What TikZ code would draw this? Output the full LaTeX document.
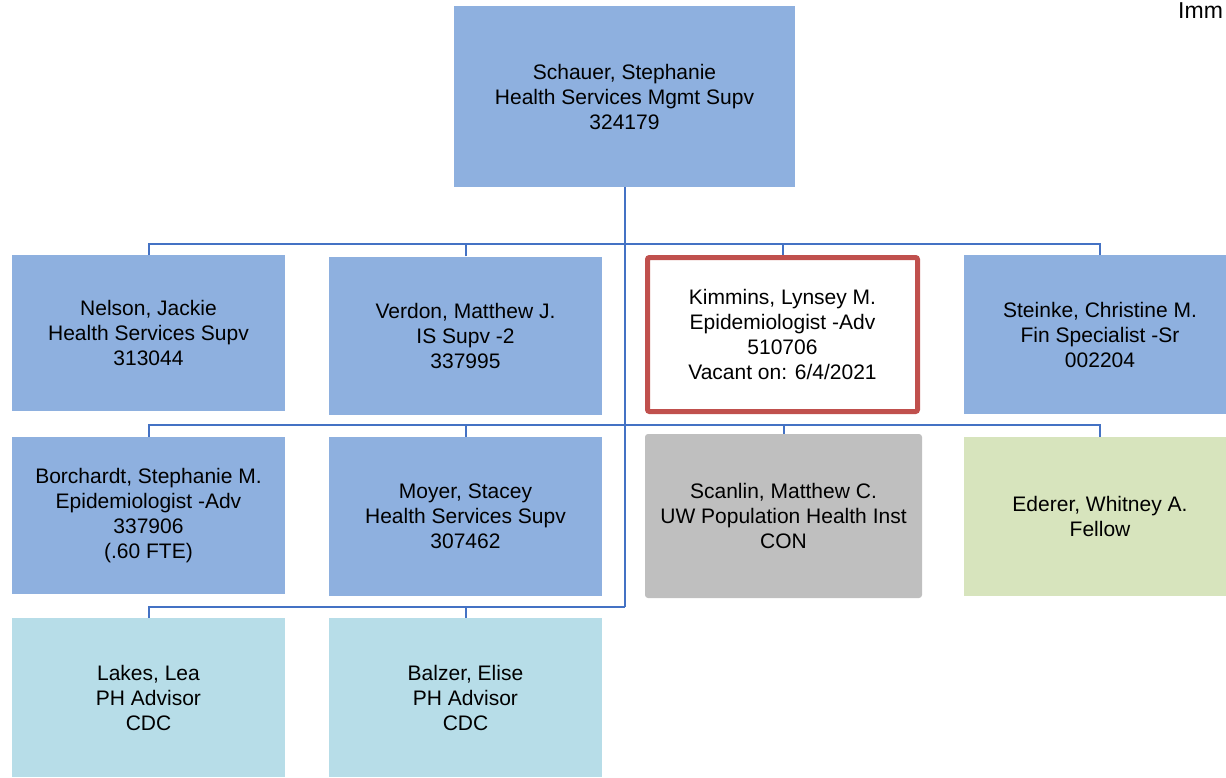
\documentclass[tikz,border=0pt]{standalone}
\usepackage{fontspec}
\setmainfont{Liberation Sans}
\usepackage{tikz}
\usetikzlibrary{positioning,backgrounds}
\definecolor{orgBlue}{HTML}{8EB0DF}
\definecolor{orgLine}{HTML}{4472C4}
\definecolor{orgRed}{HTML}{C0504D}
\definecolor{orgGray}{HTML}{BFBFBF}
\definecolor{orgGreen}{HTML}{D7E4BD}
\definecolor{orgCyan}{HTML}{B7DDE8}
\tikzset{
  posbox/.style={rectangle, fill=orgBlue, align=center, inner sep=0pt,
    minimum width=273, minimum height=158, font=\fontsize{21}{25}\selectfont},
  link/.style={draw=orgLine, line width=2pt},
}

\begin{document}
\begin{tikzpicture}[x=1pt, y=-1pt]
    \useasboundingbox (0,0) rectangle (1226,777);
    \node[anchor=base west, inner sep=0pt, font=\fontsize{23}{27}\selectfont] (Imm) at (1178,18.5) {Imm};
    % top of the chart
    \node[posbox, minimum width=341, minimum height=181] (Schauer) at (624.5,96.5) {Schauer, Stephanie\\Health Services Mgmt Supv\\324179};
    % first row
    \node[posbox, minimum height=156] (Nelson) at (148.5,333) {Nelson, Jackie\\Health Services Supv\\313044};
    \node[posbox] (Verdon) at (465.5,335.5) {Verdon, Matthew J.\\IS Supv -2\\337995};
    \node[posbox, fill=white, draw=orgRed, line width=5pt, rounded corners=2pt, minimum width=270, minimum height=154] (Kimmins) at (782.5,334.5) {Kimmins, Lynsey M.\\Epidemiologist -Adv\\510706\\Vacant on: 6/4/2021};
    \node[posbox, minimum width=272, minimum height=159] (Steinke) at (1100,334.5) {Steinke, Christine M.\\Fin Specialist -Sr\\002204};
    % second row
    \node[posbox, minimum height=157] (Borchardt) at (148.5,515.5) {Borchardt, Stephanie M.\\Epidemiologist -Adv\\337906\\(.60 FTE)};
    \node[posbox, minimum height=159] (Moyer) at (465.5,516.5) {Moyer, Stacey\\Health Services Supv\\307462};
    \node[posbox, fill=orgGray, rounded corners=3pt, minimum width=277, minimum height=164] (Scanlin) at (783.5,516) {Scanlin, Matthew C.\\UW Population Health Inst\\CON};
    \node[posbox, fill=orgGreen, minimum width=272, minimum height=159] (Ederer) at (1100,516.5) {Ederer, Whitney A.\\Fellow};
    % third row
    \node[posbox, fill=orgCyan, minimum height=159] (Lakes) at (148.5,697.5) {Lakes, Lea\\PH Advisor\\CDC};
    \node[posbox, fill=orgCyan, minimum height=159] (Balzer) at (465.5,697.5) {Balzer, Elise\\PH Advisor\\CDC};
    % reporting lines
    \coordinate (bus1) at (624.5,244);
    \coordinate (bus2) at (624.5,425);
    \coordinate (bus3) at (624.5,607);
    \begin{scope}[on background layer]
        \draw[link] (Schauer.south) -- (bus3);
        \foreach \n in {Nelson, Verdon, Kimmins, Steinke}
            \draw[link] (\n.north) |- (bus1);
        \foreach \n in {Borchardt, Moyer, Scanlin, Ederer}
            \draw[link] (\n.north) |- (bus2);
        \foreach \n in {Lakes, Balzer}
            \draw[link] (\n.north) |- (bus3);
    \end{scope}
\end{tikzpicture}
\end{document}
